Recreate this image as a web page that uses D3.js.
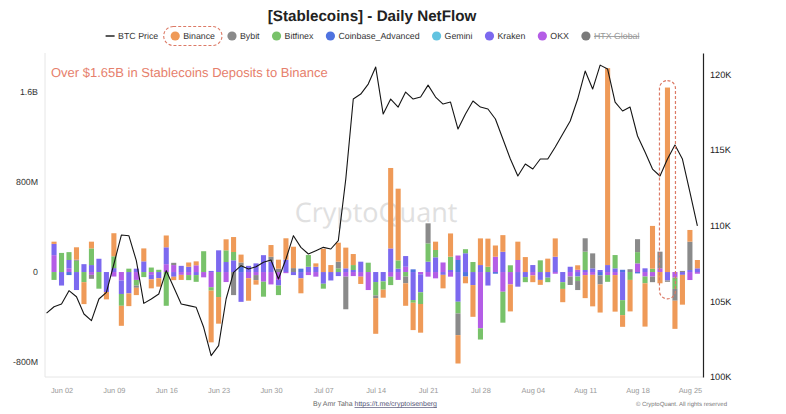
<!DOCTYPE html>
<html><head><meta charset="utf-8">
<script src="https://cdn.jsdelivr.net/npm/d3@7"></script>
<style>
body{margin:0;background:#fff;}
svg{display:block;font-family:"Liberation Sans",Arial,sans-serif;text-rendering:geometricPrecision;}
</style></head><body>
<svg id="chart" width="786" height="414"></svg>
<script>
// ---------------- DATA (netflow in $M, price in $K) ----------------
const barStart = "2025-06-01";      // first bar day, one bar per day
const priceStart = "2025-05-31";    // first BTC price day, one point per day

const binance = [20,0,0,110,-195,60,0,-65,205,-178,
 -113,-65,115,-80,-75,105,-30,-45,38,35,
 0,-460,-237,98,133,70,-200,-40,0,104,
 80,190,190,-133,0,30,207,62,169,184,
 98,-65,0,-317,-71,715,637,-200,-243,-255,
 0,74,-120,207,-252,-60,-282,237,250,100,
 148,-240,163,133,-60,-44,119,163,-118,0,
 40,-205,-280,-250,1750,-325,-104,-280,0,-385,
 380,-100,1640,-250,-265,104,74];
const bybit = [0,0,0,10,0,-35,0,0,0,0,
 0,-20,0,0,0,0,20,0,0,0,
 0,0,0,0,-205,40,0,-45,0,44,
 30,0,35,0,0,0,0,0,59,-290,
 0,0,0,-24,0,0,0,-60,0,0,
 178,0,0,0,-193,0,0,0,0,0,
 0,0,0,0,0,0,0,0,0,-75,
 -80,119,133,-80,0,0,0,25,115,0,
 -50,148,-12,-105,10,252,0];
const bitfinex = [-70,170,70,100,-90,148,-148,0,105,-105,
 30,-50,-45,40,20,-300,0,0,-45,-60,
 185,-30,-222,104,74,0,0,0,-133,0,
 -85,0,0,0,104,0,-44,0,33,0,
 44,0,83,-119,-74,-74,74,-40,-24,-104,
 163,65,0,118,-104,36,89,-100,47,0,
 -275,60,0,-45,0,104,-40,0,-60,0,
 -40,163,0,0,-60,118,-133,-70,100,-60,
 30,0,0,-100,0,0,0];
const coinbaseAdv = [0,0,-27,0,0,0,0,0,0,0,
 0,0,0,0,0,0,0,0,0,0,
 0,0,0,0,0,45,0,0,0,0,
 0,0,0,30,0,0,0,0,0,0,
 0,0,0,0,0,0,0,0,24,0,
 0,0,0,0,107,-40,0,0,0,-15,
 0,0,0,0,0,0,0,0,0,0,
 0,0,0,-30,0,0,20,0,-12,0,
 0,0,0,0,0,0,0];
const gemini = [0,0,0,0,0,0,0,0,0,0,
 0,0,0,0,0,0,0,0,0,0,
 0,0,0,0,0,0,0,0,0,0,
 0,0,0,0,0,0,0,0,0,0,
 0,0,0,0,0,0,0,0,0,0,
 0,0,0,0,0,0,0,0,0,0,
 0,0,0,0,0,0,0,0,0,0,
 0,0,0,0,0,0,0,0,0,0,
 0,0,0,0,0,0,0];
const kraken = [100,-120,74,-160,70,62,118,-178,35,-120,
 -190,30,95,-40,-55,150,-42,55,47,-27,
 0,10,193,89,104,-265,55,77,150,92,
 -50,110,-27,-56,47,47,-104,-75,-36,33,
 18,92,0,-89,-83,210,30,95,-249,-160,
 92,131,-25,18,-264,167,-116,62,-120,0,
 180,0,-130,-45,62,-70,-50,136,-90,47,
 -40,18,33,18,62,33,-250,0,0,33,
 0,0,-75,0,-25,18,33];
const okx = [150,0,33,0,0,-25,0,0,-40,-75,
 0,-70,0,-25,0,70,62,-25,-27,60,
 -47,-135,0,-89,0,0,-55,-27,-86,-110,
 -70,-10,0,0,-27,-41,0,0,0,-41,
 -36,-41,-160,0,0,-42,-70,47,0,-20,
 -41,-56,85,-41,40,0,0,-500,0,136,
 -175,-110,107,0,-30,0,0,-15,0,-40,
 20,-27,-25,0,-27,-27,0,0,77,-40,
 -40,33,0,-50,0,-71,-15];
const btcPrice = [104.22,104.64,104.82,105.70,105.30,104.16,103.72,105.15,105.59,107.46,
 109.37,109.33,107.68,104.86,105.15,105.48,107.02,105.92,104.82,104.71,
 104.60,103.28,101.41,102.07,105.15,106.91,107.35,107.13,107.28,107.57,
 107.72,106.47,107.79,109.33,108.56,108.12,108.34,108.56,108.45,109.00,
 113.07,118.35,118.68,119.34,120.46,117.36,118.35,117.82,118.81,118.35,
 118.48,119.27,118.48,118.02,118.15,116.37,117.36,118.22,117.82,117.69,
 117.03,115.71,114.39,113.27,114.06,113.73,114.39,114.39,115.18,116.04,
 116.90,118.35,120.20,119.01,120.59,120.33,118.15,117.56,117.82,115.91,
 114.85,113.73,113.27,114.39,115.31,114.39,112.21,109.97];

const legendNames = ["Binance","Bybit","Bitfinex","Coinbase_Advanced","Gemini","Kraken","OKX","HTX Global"];
const hiddenSeries = ["HTX Global"];
const stackOrder = ["Coinbase_Advanced","OKX","Kraken","Gemini","Bitfinex","Bybit","Binance"];
const leftTicks = [-800,0,800,1600];
const leftTickLabels = ["-800M","0","800M","1.6B"];
const rightTicks = [100,105,110,115,120];
const rightTickLabels = ["100K","105K","110K","115K","120K"];
const highlightDay = "2025-08-22";
const titleText = "[Stablecoins] - Daily NetFlow";
const noteText = "Over $1.65B in Stablecoins Deposits to Binance";

// ---------------- STYLE ----------------
const colors = {
  "Binance":"#ef9a58","Bybit":"#8a8a8a","Bitfinex":"#78c26a","Coinbase_Advanced":"#4f73e0",
  "Gemini":"#62c3e0","Kraken":"#7c69ef","OKX":"#b45de6","HTX Global":"#7a7a7a"
};
const W = 786, H = 414;
const M = {left:45, right:83, top:53, bottom:37};
const svg = d3.select("#chart");

const parse = d3.timeParse("%Y-%m-%d");
const d0 = parse(barStart);
const seriesValues = {"Binance":binance,"Bybit":bybit,"Bitfinex":bitfinex,"Coinbase_Advanced":coinbaseAdv,
  "Gemini":gemini,"Kraken":kraken,"OKX":okx};
const rows = binance.map((_,i)=>{
  const r = {date:d3.timeDay.offset(d0,i)};
  for (const k of stackOrder) r[k] = seriesValues[k][i];
  return r;
});
const p0 = parse(priceStart);
const priceRows = btcPrice.map((v,i)=>({date:d3.timeDay.offset(p0,i), price:v}));

const x = d3.scaleTime()
  .domain([d3.timeHour.offset(rows[0].date,-29), d3.timeHour.offset(rows[rows.length-1].date,18)])
  .range([M.left, W-M.right]);
const yL = d3.scaleLinear().domain([-933,1947]).range([H-M.bottom, M.top]);
const yR = d3.scaleLinear().domain([100,121.39]).range([H-M.bottom, M.top]);

// watermark
svg.append("text").attr("x",(M.left+W-M.right)/2+2).attr("y",yL(0)-50)
  .attr("text-anchor","middle").attr("font-size",27).attr("fill","#e0e0e0")
  .attr("font-family","'Open Sans',sans-serif").text("CryptoQuant");

// axes lines
svg.append("line").attr("x1",M.left).attr("x2",M.left).attr("y1",M.top).attr("y2",H-M.bottom)
  .attr("stroke","#e6e6e6");
svg.append("line").attr("x1",M.left).attr("x2",W-M.right).attr("y1",H-M.bottom).attr("y2",H-M.bottom)
  .attr("stroke","#e6e6e6");

// bars
const stacked = d3.stack().keys(stackOrder).offset(d3.stackOffsetDiverging)(rows);
const bw = (x(d3.timeDay.offset(d0,1)) - x(d0)) * 0.68;
const gBars = svg.append("g");
stacked.forEach(layer=>{
  gBars.selectAll(null).data(layer.filter(d=>d[1]!==d[0])).join("rect")
    .attr("x",d=>x(d.data.date)-bw/2)
    .attr("y",d=>yL(Math.max(d[0],d[1])))
    .attr("width",bw)
    .attr("height",d=>Math.abs(yL(d[0])-yL(d[1])))
    .attr("fill",colors[layer.key]);
});

// BTC line
svg.append("path").datum(priceRows)
  .attr("fill","none").attr("stroke","#151515").attr("stroke-width",1.1)
  .attr("stroke-linejoin","round")
  .attr("d",d3.line().x(d=>x(d.date)).y(d=>yR(d.price)));

// left axis
const axL = svg.append("g").attr("transform",`translate(${M.left},0)`)
  .call(d3.axisLeft(yL).tickValues(leftTicks).tickSize(0).tickPadding(7)
     .tickFormat((d,i)=>leftTickLabels[i]));
axL.select(".domain").remove();
axL.selectAll("text").attr("font-size",8.8).attr("fill","#333").attr("font-family","'Liberation Sans',Arial,sans-serif");

// right axis
const axR = svg.append("g").attr("transform",`translate(${W-M.right},0)`)
  .call(d3.axisRight(yR).tickValues(rightTicks).tickSize(0).tickPadding(7)
     .tickFormat((d,i)=>rightTickLabels[i]));
axR.select(".domain").attr("stroke","#222").attr("stroke-width",1.2);
axR.selectAll("text").attr("font-size",9.2).attr("fill","#222").attr("font-family","'Liberation Sans',Arial,sans-serif");

// bottom axis
const axB = svg.append("g").attr("transform",`translate(0,${H-M.bottom})`)
  .call(d3.axisBottom(x).ticks(d3.timeMonday.every(1)).tickSize(0).tickPadding(11)
     .tickFormat(d3.timeFormat("%b %d")));
axB.select(".domain").remove();
axB.selectAll("text").attr("font-size",7.4).attr("fill","#999").attr("font-family","'Liberation Sans',Arial,sans-serif");

// highlight box around big day
const hi = rows.findIndex(r=>+r.date===+parse(highlightDay));
let hiTop=0, hiBot=0;
stacked.forEach(l=>{hiTop=Math.max(hiTop,l[hi][1],l[hi][0]); hiBot=Math.min(hiBot,l[hi][0],l[hi][1]);});
const hx = x(rows[hi].date);
svg.append("rect").attr("x",hx-8).attr("width",16)
  .attr("y",yL(hiTop)-7).attr("height",(yL(hiBot)+17)-(yL(hiTop)-7))
  .attr("rx",8).attr("fill","none").attr("stroke","#dc7a66").attr("stroke-width",1.2)
  .attr("stroke-dasharray","3,2");

// annotation text
svg.append("text").attr("x",M.left+6).attr("y",77).attr("font-size",13)
  .attr("fill","#e6806c").text(noteText);

// title
svg.append("text").attr("x",372).attr("y",21).attr("text-anchor","middle")
  .attr("font-size",15.2).attr("font-weight","bold").attr("fill","#222").text(titleText);

// legend
const lg = svg.append("g");
const legendItems = [{name:"BTC Price", type:"line"}].concat(legendNames.map(n=>({name:n,type:"dot"})));
const fs = 8.8, ly = 36;
let cx = 0;
const placed = [];
legendItems.forEach(it=>{
  const g = lg.append("g").attr("transform",`translate(${cx},0)`);
  let tx;
  if (it.type==="line"){
    g.append("line").attr("x1",0).attr("x2",9).attr("y1",ly).attr("y2",ly).attr("stroke","#222").attr("stroke-width",1.5);
    tx = 12.5;
  } else {
    g.append("circle").attr("cx",4.5).attr("cy",ly).attr("r",4.6).attr("fill",colors[it.name]);
    tx = 12.5;
  }
  const hidden = hiddenSeries.includes(it.name);
  const t = g.append("text").attr("x",tx).attr("y",ly+3.2).attr("font-size",fs)
    .attr("fill",hidden?"#999":"#333").text(it.name);
  if (hidden) t.attr("text-decoration","line-through");
  const w = t.node().getComputedTextLength();
  placed.push({name:it.name, start:cx, end:cx+tx+w});
  cx += tx + w + 12.5;
});
const totalW = cx - 12.5;
const lx0 = 372.5 - totalW/2;
lg.attr("transform",`translate(${lx0},0)`);
const bItem = placed.find(p=>p.name==="Binance");
lg.append("rect").attr("x",bItem.start-7).attr("y",ly-9.5).attr("width",bItem.end-bItem.start+14)
  .attr("height",19).attr("rx",9.5).attr("fill","none").attr("stroke","#dc7a66")
  .attr("stroke-width",1.1).attr("stroke-dasharray","3,2");

// footer
const ft = svg.append("text").attr("x",375).attr("y",406).attr("text-anchor","middle")
  .attr("font-size",7).attr("fill","#666");
ft.append("tspan").text("By Amr Taha ");
ft.append("tspan").attr("fill","#557").attr("text-decoration","underline").text("https://t.me/cryptoisenberg");
svg.append("text").attr("x",727).attr("y",406).attr("text-anchor","end")
  .attr("font-size",6).attr("fill","#777").text("© CryptoQuant. All rights reserved");
</script>
</body></html>
